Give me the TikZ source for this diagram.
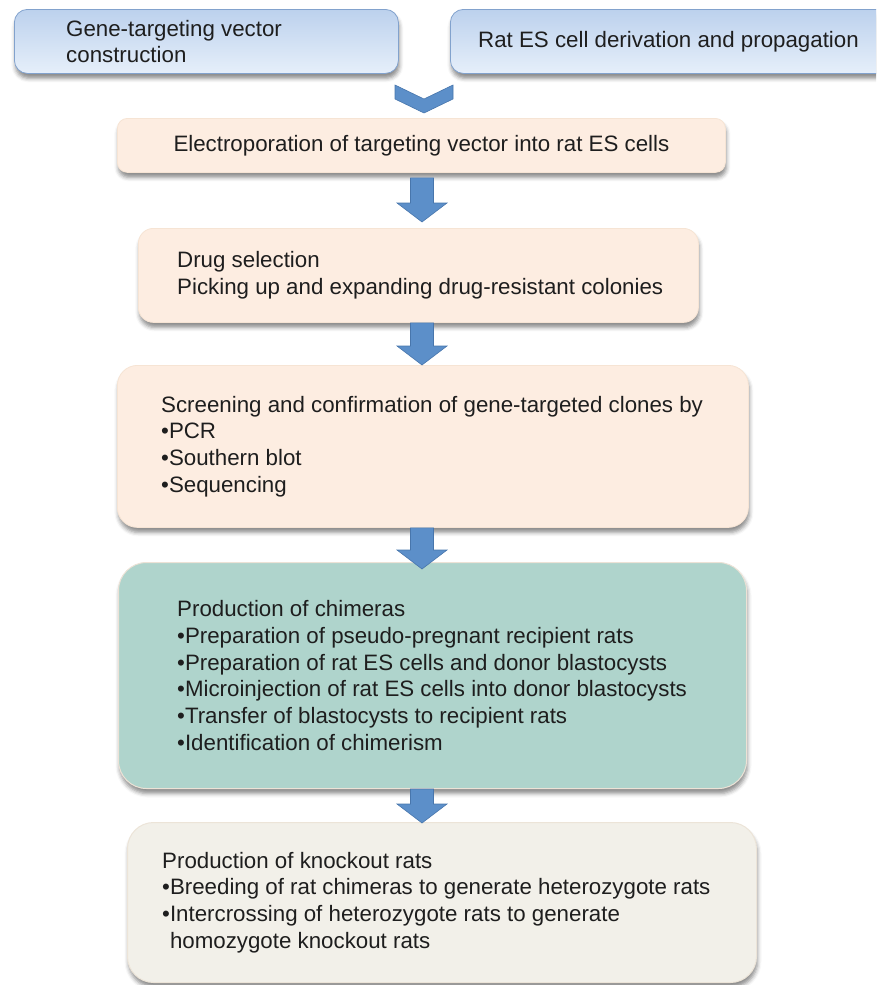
\documentclass[tikz,border=0pt]{standalone}
\usepackage{fontspec}
\setmainfont{Liberation Sans}
\usetikzlibrary{calc,shadows.blur}
\definecolor{bluetop}{RGB}{188,209,237}
\definecolor{bluebot}{RGB}{230,239,250}
\definecolor{blueedge}{RGB}{130,162,205}
\definecolor{peach}{RGB}{253,237,225}
\definecolor{peachedge}{RGB}{246,228,212}
\definecolor{chimera}{RGB}{175,212,204}
\definecolor{chimeraedge}{RGB}{236,226,214}
\definecolor{cream}{RGB}{242,240,233}
\definecolor{creamedge}{RGB}{236,228,216}
\definecolor{arrowfill}{RGB}{92,143,201}
\definecolor{arrowedge}{RGB}{72,118,172}
\definecolor{textcol}{RGB}{30,30,30}
\begin{document}
\begin{tikzpicture}[x=1pt,y=-1pt,
  txt/.style={font=\fontsize{22.3}{26.7}\selectfont, align=left, inner sep=0pt, text=textcol},
  boxbase/.style={rectangle, anchor=north west, inner sep=0pt,
    blur shadow={shadow xshift=1pt, shadow yshift=-5pt, shadow blur radius=4pt, shadow opacity=45}},
  topbox/.style={boxbase, rounded corners=13pt, top color=bluetop, bottom color=bluebot, draw=blueedge, line width=0.8pt},
  peachbox/.style={boxbase, fill=peach, draw=peachedge, line width=0.8pt},
  chimbox/.style={boxbase, fill=chimera, draw=chimeraedge, line width=1pt, rounded corners=28pt},
  creambox/.style={boxbase, fill=cream, draw=creamedge, line width=1pt, rounded corners=26pt},
  blockarrow/.style={fill=arrowfill, draw=arrowedge, line width=0.6pt,
    to path={let \p1=(\tikztostart), \p2=(\tikztotarget) in
      (\x1-11.5pt,\y1) -- (\x1+11.5pt,\y1) -- (\x1+11.5pt,\y2+19pt) -- (\x1+25pt,\y2+19pt)
      -- (\x1,\y2) -- (\x1-25pt,\y2+19pt) -- (\x1-11.5pt,\y2+19pt) -- cycle}}
]
\useasboundingbox (0,0) rectangle (876,985);
\clip (0,0) rectangle (876,985);

% top boxes
\node[topbox, minimum width=384pt, minimum height=64pt] (ga) at (14,9) {};
\node[txt, anchor=west] (gat) at ($(ga.west)+(52,0)$) {Gene-targeting vector\\construction};
\node[topbox, minimum width=450pt, minimum height=64pt] (gb) at (450,9) {};
\node[txt, anchor=west] (gbt) at ($(gb.west)+(28,0)$) {Rat ES cell derivation and propagation};

% chevron
\draw[fill=arrowfill, draw=arrowedge, line width=0.6pt]
  (395,85) -- (424,99) -- (453,85) -- (453,99) -- (424,113) -- (395,99) -- cycle;

% main boxes
\node[peachbox, rounded corners=10pt, minimum width=608pt, minimum height=54pt] (b1) at (117,118) {};
\node[txt] (b1t) at (b1.center) {Electroporation of targeting vector into rat ES cells};

\node[peachbox, rounded corners=15pt, minimum width=560pt, minimum height=94pt] (b2) at (138,228) {};
\node[txt, anchor=west] (b2t) at ($(b2.west)+(39,0)$) {Drug selection\\Picking up and expanding drug-resistant colonies};

\node[peachbox, rounded corners=20pt, minimum width=631pt, minimum height=162pt] (b3) at (117,365) {};
\node[txt, anchor=west] (b3t) at ($(b3.west)+(44,0)$) {Screening and confirmation of gene-targeted clones by\\•PCR\\•Southern blot\\•Sequencing};

\node[chimbox, minimum width=628pt, minimum height=226pt] (b4) at (118,562) {};
\node[txt, anchor=west] (b4t) at ($(b4.west)+(59,0)$) {Production of chimeras\\•Preparation of pseudo-pregnant recipient rats\\•Preparation of rat ES cells and donor blastocysts\\•Microinjection of rat ES cells into donor blastocysts\\•Transfer of blastocysts to recipient rats\\•Identification of chimerism};

\node[creambox, minimum width=629pt, minimum height=160pt] (b5) at (127,822) {};
\node[txt, anchor=west] (b5t) at ($(b5.west)+(35,0)$) {Production of knockout rats\\•Breeding of rat chimeras to generate heterozygote rats\\•Intercrossing of heterozygote rats to generate\\\hphantom{•}homozygote knockout rats};

% arrows
\coordinate (ax) at (422,0);
\path[blockarrow] ($(b1.south -| ax)+(0,5)$) to ($(b2.north -| ax)+(0,-6)$);
\path[blockarrow] (b2.south -| ax) to (b3.north -| ax);
\path[blockarrow] (b3.south -| ax) to ($(b4.north -| ax)+(0,7)$);
\path[blockarrow] (b4.south -| ax) to ($(b5.north -| ax)+(0,1)$);
\end{tikzpicture}
\end{document}
